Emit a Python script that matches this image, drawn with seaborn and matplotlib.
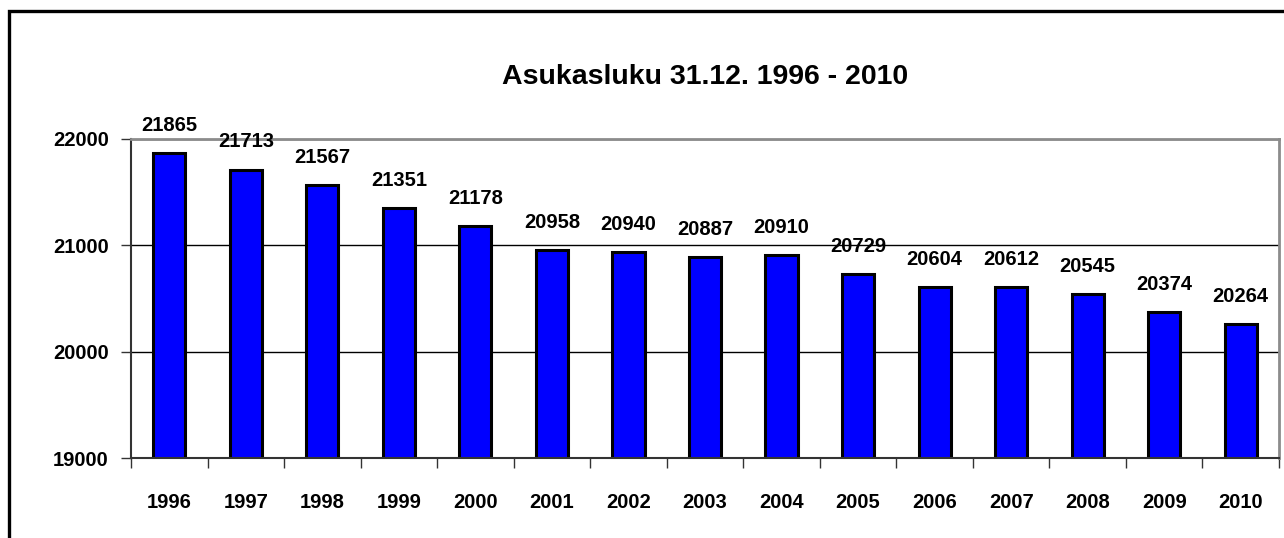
import matplotlib
matplotlib.use("Agg")
import matplotlib.pyplot as plt
import seaborn as sns
import pandas as pd
from matplotlib.patches import Rectangle
from matplotlib.ticker import FixedLocator

years = ["1996", "1997", "1998", "1999", "2000", "2001", "2002", "2003",
         "2004", "2005", "2006", "2007", "2008", "2009", "2010"]
population = [21865, 21713, 21567, 21351, 21178, 20958, 20940, 20887,
              20910, 20729, 20604, 20612, 20545, 20374, 20264]
yticks = [19000, 20000, 21000, 22000]
title = "Asukasluku 31.12. 1996 - 2010"

sns.set_theme(style="white")
plt.rcParams['font.family'] = ['Liberation Sans', 'DejaVu Sans']
plt.rcParams['text.color'] = 'black'
plt.rcParams['xtick.color'] = 'black'
plt.rcParams['ytick.color'] = 'black'
plt.rcParams['xtick.labelcolor'] = 'black'
plt.rcParams['ytick.labelcolor'] = 'black'

df = pd.DataFrame({"year": years, "pop": population})

fig = plt.figure(figsize=(12.84, 5.38), dpi=100)
ax = fig.add_axes([131/1284, 80/538, (1279-131)/1284, (458-139)/538])

sns.barplot(data=df, x="year", y="pop", ax=ax, color="#0000FF",
            saturation=1, width=0.42, edgecolor="black", linewidth=2.2)

ax.set_ylim(19000, 22000)
ax.set_xlim(-0.5, len(years) - 0.5)
ax.set_yticks(yticks)
ax.set_yticklabels([str(v) for v in yticks], fontweight="bold", fontsize=14.5, color="black")
ax.set_xticks(range(len(years)))
ax.set_xticklabels(years, fontweight="bold", fontsize=14.5, color="black")
ax.xaxis.set_minor_locator(FixedLocator([i - 0.5 for i in range(len(years) + 1)]))
ax.tick_params(axis="x", which="major", length=0, pad=25)
ax.tick_params(axis="x", which="minor", length=7, width=1, color="#333333", direction="out", bottom=True)
ax.tick_params(axis="y", which="major", length=7, width=1, color="#333333", direction="out", left=True, pad=9)
ax.set_xlabel("")
ax.set_ylabel("")

ax.set_axisbelow(True)
ax.yaxis.grid(True, color="black", linewidth=1)
ax.xaxis.grid(False)

for side in ["top", "right"]:
    ax.spines[side].set_visible(True)
    ax.spines[side].set_color("#8c8c8c")
    ax.spines[side].set_linewidth(2)
for side in ["left", "bottom"]:
    ax.spines[side].set_visible(True)
    ax.spines[side].set_color("#333333")
    ax.spines[side].set_linewidth(1.5)

for i, v in enumerate(population):
    ax.annotate(str(v), (i, v), xytext=(0, 13), textcoords="offset points",
                ha="center", va="bottom", fontsize=14.5, fontweight="bold", color="black")

fig.text(705/1284, 1 - 77/538, title, ha="center", va="center",
         fontsize=20.5, fontweight="bold", color="black")

fig.patches.append(Rectangle((9/1284, -1), 2, 1 + (1 - 11/538), transform=fig.transFigure,
                             fill=False, edgecolor="black", linewidth=2.4))

fig.savefig("out.png", dpi=100)
